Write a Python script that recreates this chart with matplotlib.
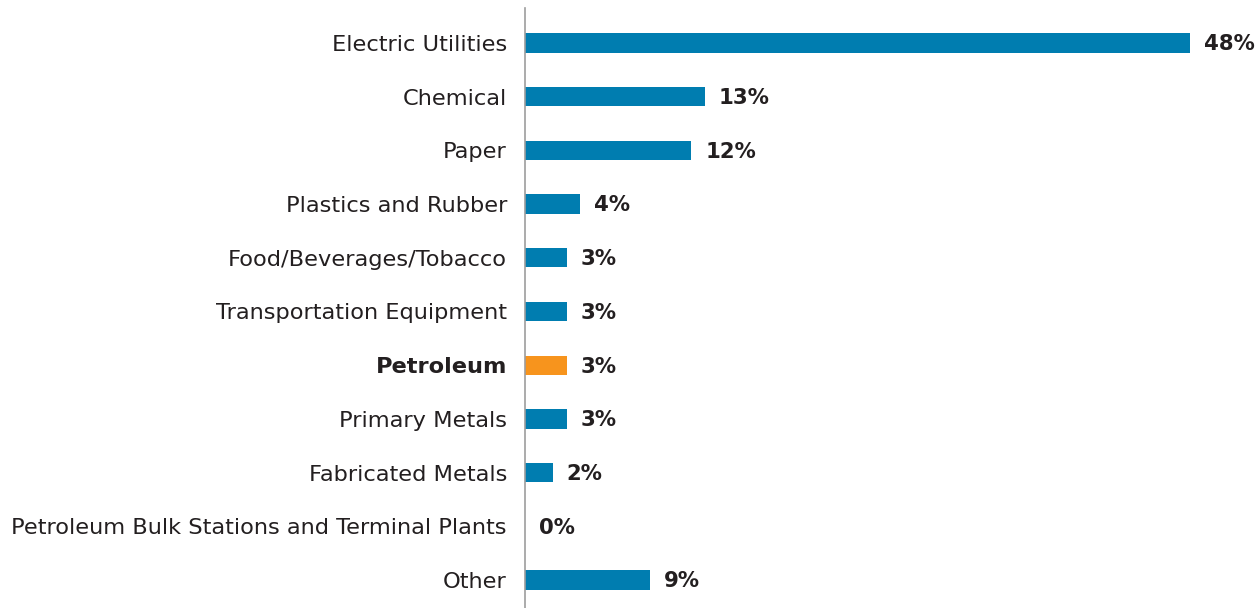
import matplotlib
matplotlib.use("Agg")
import matplotlib.pyplot as plt
import numpy as np

categories = [
    "Electric Utilities",
    "Chemical",
    "Paper",
    "Plastics and Rubber",
    "Food/Beverages/Tobacco",
    "Transportation Equipment",
    "Petroleum",
    "Primary Metals",
    "Fabricated Metals",
    "Petroleum Bulk Stations and Terminal Plants",
    "Other",
]
shares = [48, 13, 12, 4, 3, 3, 3, 3, 2, 0, 9]
highlight = "Petroleum"

BLUE = "#007DB0"
ORANGE = "#F7941D"
TEXT = "#231F20"

plt.rcParams["font.family"] = ["DejaVu Sans"]

fig = plt.figure(figsize=(12.58, 6.08), dpi=100)
ax = fig.add_axes([525 / 1258, 0, 50 * 13.854 / 1258, 600 / 608])

y = np.arange(len(categories))
colors = [ORANGE if c == highlight else BLUE for c in categories]
ax.barh(y, shares, height=0.36, color=colors)

for yi, v in zip(y, shares):
    ax.annotate(f"{v}%", (v, yi), xytext=(10, -1), textcoords="offset points",
                va="center", ha="left", fontsize=15.3, fontweight="bold",
                color=TEXT)

ax.set_xlim(0, 50)
ax.set_ylim(10.52, -0.65)
ax.set_yticks(y)
ax.set_yticklabels(categories, fontsize=16.2, color=TEXT)
for lbl in ax.get_yticklabels():
    if lbl.get_text() == highlight:
        lbl.set_fontweight("bold")
ax.tick_params(axis="y", length=0, pad=13)
ax.set_xticks([])

for side in ("top", "right", "bottom"):
    ax.spines[side].set_visible(False)
ax.spines["left"].set_color("#9D9D9D")
ax.spines["left"].set_linewidth(1.2)

fig.savefig("out.png", dpi=100)
plt.close(fig)
